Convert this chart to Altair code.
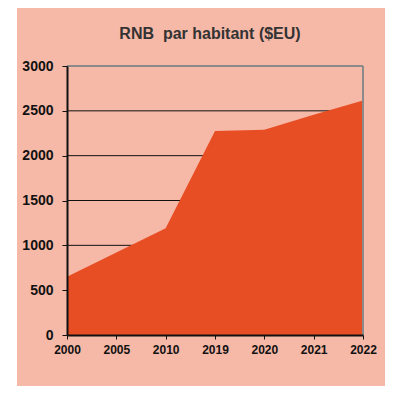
import altair as alt
import pandas as pd

years = ["2000", "2005", "2010", "2019", "2020", "2021", "2022"]
rnb = [650, 920, 1190, 2275, 2290, 2455, 2615]
y_ticks = [0, 500, 1000, 1500, 2000, 2500, 3000]
grid_vals = [500, 1000, 1500, 2000, 2500]

df = pd.DataFrame({"year": years, "rnb": rnb})
grid_df = pd.DataFrame({"g": grid_vals})

W, H = 296, 269
PAD = {"left": 59, "top": 58, "right": 22, "bottom": 51}
SALMON = "#F6B8A7"
ORANGE = "#E84E24"
FONT = "Liberation Sans"

bg = alt.Chart(alt.Data(values=[{"k": 1}])).mark_rect(color=SALMON).encode(
    x=alt.value(-50), x2=alt.value(W + PAD["right"]), y=alt.value(-62), y2=alt.value(H + PAD["bottom"])
)

grid = alt.Chart(grid_df).mark_rule(color="#111", strokeWidth=1).encode(
    y=alt.Y("g:Q", scale=alt.Scale(domain=[0, 3000], nice=False)),
    x=alt.value(0), x2=alt.value(W)
)

area = alt.Chart(df).mark_area(color=ORANGE, opacity=1).encode(
    x=alt.X("year:O", sort=years, scale=alt.Scale(type="point", padding=0),
            axis=alt.Axis(title=None, labelAngle=0, labelFont=FONT, labelFontSize=12,
                          labelFontWeight="bold", labelColor="#111", domainColor="#111",
                          domainWidth=2, tickColor="#111", tickSize=4, tickWidth=1,
                          labelPadding=5, grid=False, zindex=2)),
    y=alt.Y("rnb:Q", scale=alt.Scale(domain=[0, 3000], nice=False),
            axis=alt.Axis(title=None, values=y_ticks, format="d", labelFont=FONT, labelFontSize=14,
                          labelFontWeight="bold", labelColor="#111", domainColor="#111",
                          domainWidth=2, tickColor="#111", tickSize=5, tickWidth=1,
                          labelPadding=9, grid=False, zindex=2)),
)

frame_right = alt.Chart(alt.Data(values=[{"k": 1}])).mark_rule(color="#8a8a8a", strokeWidth=2).encode(
    x=alt.value(W), y=alt.value(0), y2=alt.value(H)
)
frame_top = alt.Chart(alt.Data(values=[{"k": 1}])).mark_rule(color="#8a8a8a", strokeWidth=2).encode(
    x=alt.value(0), x2=alt.value(W), y=alt.value(0)
)

chart = alt.layer(bg, grid, area, frame_right, frame_top).properties(
    width=W, height=H,
    title=alt.TitleParams("RNB\u00a0 par habitant ($EU)", font=FONT, fontSize=16, fontWeight="bold",
                          color="#333333", offset=-38, dx=-5, anchor="middle", frame="group", zindex=2),
    autosize=alt.AutoSizeParams(type="none"),
    padding=PAD,
    background="white",
).configure_view(stroke=None)

chart.save("out.html", embed_options={"renderer": "svg", "actions": False})
